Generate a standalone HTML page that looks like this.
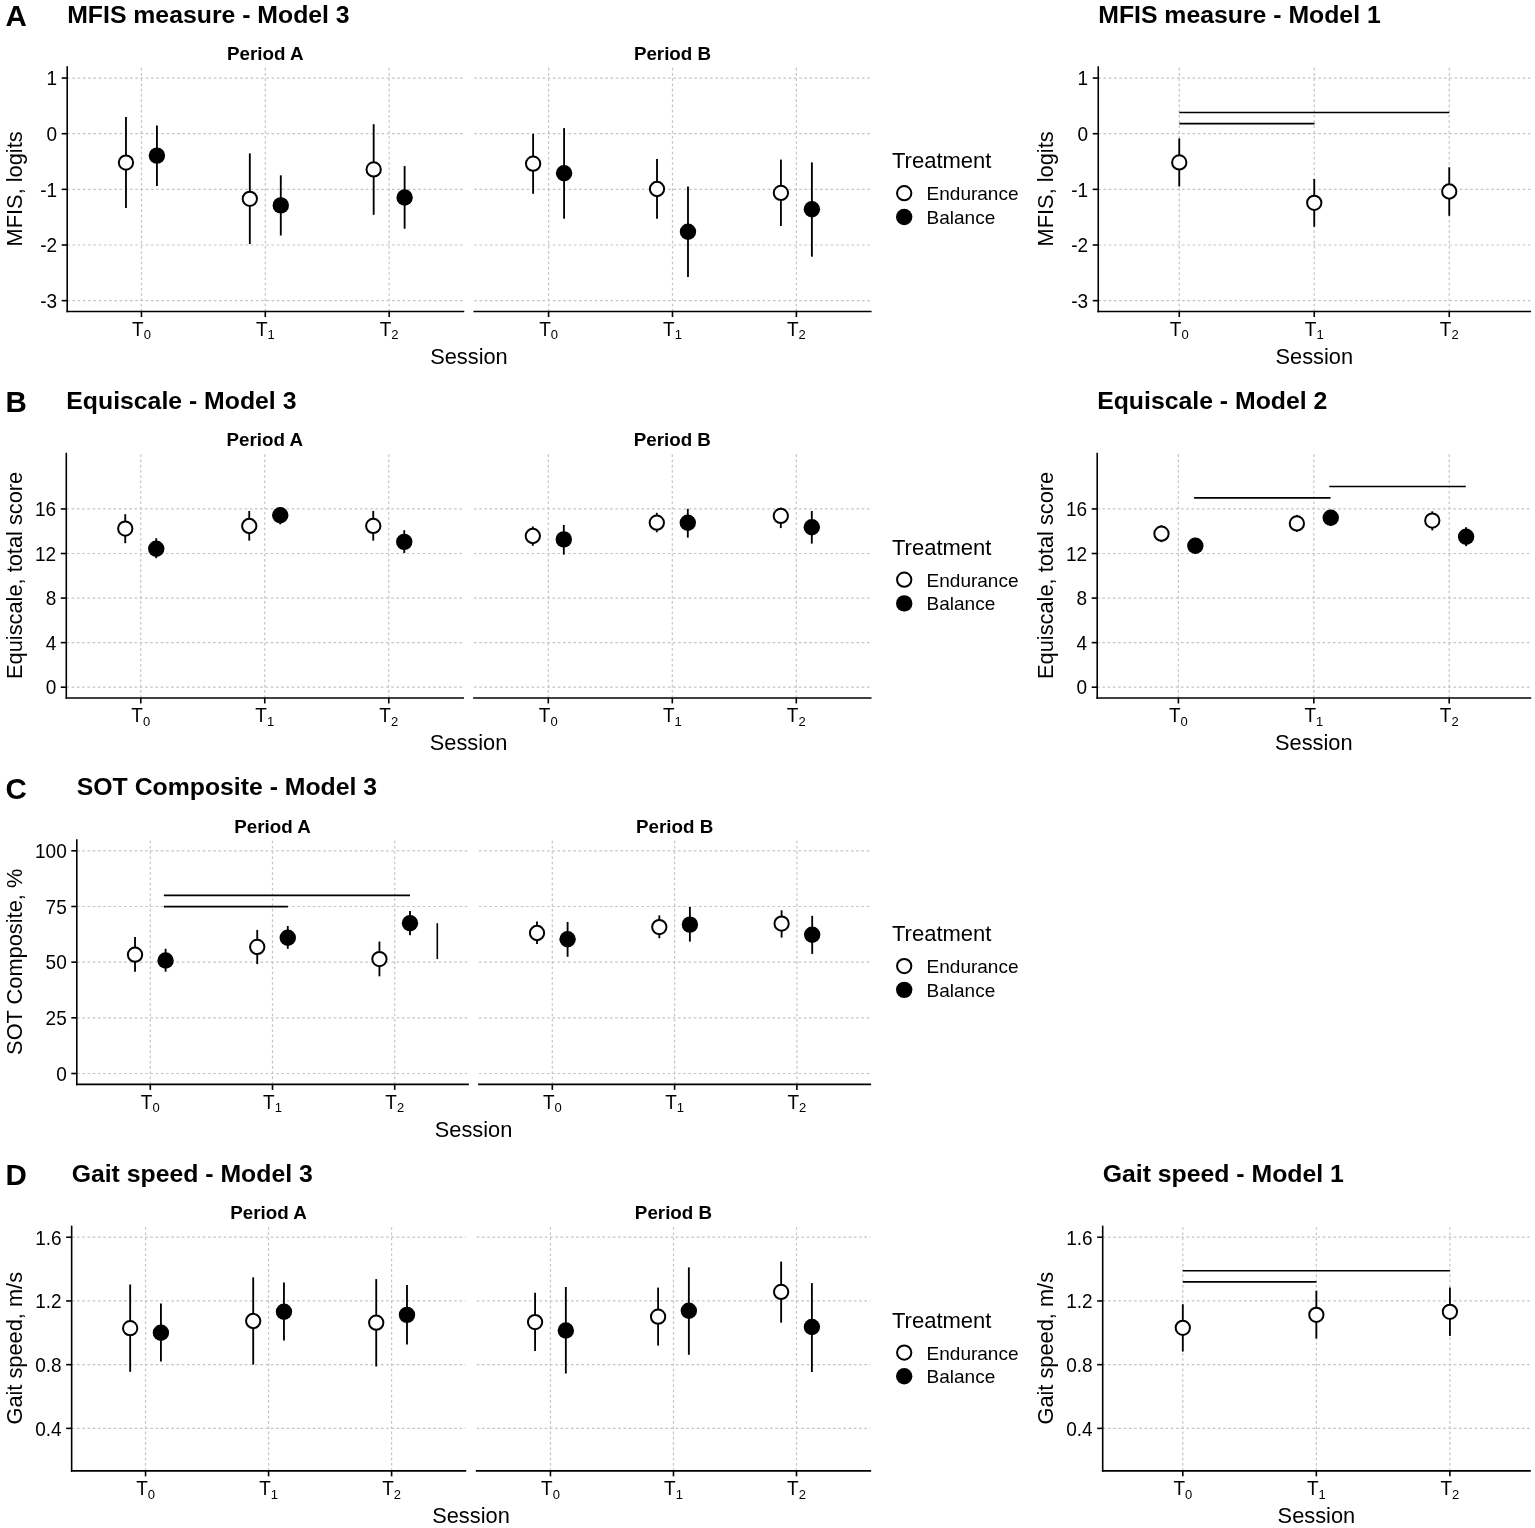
<!DOCTYPE html>
<html lang="en"><head><meta charset="utf-8"><title>Figure</title>
<style>html,body{margin:0;padding:0;background:#fff;}svg{display:block;}text{font-family:'Liberation Sans', Arial, Helvetica, sans-serif;}</style>
</head><body>
<svg width="1535" height="1528" viewBox="0 0 1535 1528" font-family="'Liberation Sans', Arial, Helvetica, sans-serif" fill="#000"><g>
<text x="5.5" y="25.8" font-size="29.5" font-weight="bold">A</text>
<text x="67.2" y="22.5" font-size="24.8" font-weight="bold">MFIS measure - Model 3</text>
<g stroke="#c4c4c4" stroke-width="1.2" stroke-dasharray="2.62 2.62" fill="none"><path d="M67.14 78.05H463.46"/><path d="M67.14 133.7H463.46"/><path d="M67.14 189.35H463.46"/><path d="M67.14 245H463.46"/><path d="M67.14 300.65H463.46"/><path d="M141.45 311.5V66.3"/><path d="M265.3 311.5V66.3"/><path d="M389.15 311.5V66.3"/><path d="M474.26 78.05H870.74"/><path d="M474.26 133.7H870.74"/><path d="M474.26 189.35H870.74"/><path d="M474.26 245H870.74"/><path d="M474.26 300.65H870.74"/><path d="M548.6 311.5V66.3"/><path d="M672.5 311.5V66.3"/><path d="M796.4 311.5V66.3"/></g>
<line x1="125.97" y1="117" x2="125.97" y2="208" stroke="#000" stroke-width="1.85"/><line x1="156.93" y1="125.5" x2="156.93" y2="186" stroke="#000" stroke-width="1.85"/><circle cx="125.97" cy="162.6" r="7.15" fill="#fff" stroke="#000" stroke-width="2"/><circle cx="156.93" cy="155.6" r="8.2" fill="#000"/><line x1="249.82" y1="153.4" x2="249.82" y2="244" stroke="#000" stroke-width="1.85"/><line x1="280.78" y1="175.3" x2="280.78" y2="235.5" stroke="#000" stroke-width="1.85"/><circle cx="249.82" cy="198.8" r="7.15" fill="#fff" stroke="#000" stroke-width="2"/><circle cx="280.78" cy="205.4" r="8.2" fill="#000"/><line x1="373.67" y1="124.2" x2="373.67" y2="214.8" stroke="#000" stroke-width="1.85"/><line x1="404.63" y1="166.1" x2="404.63" y2="228.7" stroke="#000" stroke-width="1.85"/><circle cx="373.67" cy="169.4" r="7.15" fill="#fff" stroke="#000" stroke-width="2"/><circle cx="404.63" cy="197.5" r="8.2" fill="#000"/><line x1="533.11" y1="133.8" x2="533.11" y2="193.8" stroke="#000" stroke-width="1.85"/><line x1="564.09" y1="128.1" x2="564.09" y2="218.7" stroke="#000" stroke-width="1.85"/><circle cx="533.11" cy="163.7" r="7.15" fill="#fff" stroke="#000" stroke-width="2"/><circle cx="564.09" cy="173.3" r="8.2" fill="#000"/><line x1="657.01" y1="158.9" x2="657.01" y2="218.7" stroke="#000" stroke-width="1.85"/><line x1="687.99" y1="186.6" x2="687.99" y2="277.1" stroke="#000" stroke-width="1.85"/><circle cx="657.01" cy="189" r="7.15" fill="#fff" stroke="#000" stroke-width="2"/><circle cx="687.99" cy="231.8" r="8.2" fill="#000"/><line x1="780.91" y1="159.6" x2="780.91" y2="226" stroke="#000" stroke-width="1.85"/><line x1="811.89" y1="162.4" x2="811.89" y2="256.7" stroke="#000" stroke-width="1.85"/><circle cx="780.91" cy="192.9" r="7.15" fill="#fff" stroke="#000" stroke-width="2"/><circle cx="811.89" cy="209.3" r="8.2" fill="#000"/>
<line x1="67.2" y1="66.3" x2="67.2" y2="312.3" stroke="#000" stroke-width="1.6"/><line x1="61.7" y1="78.05" x2="67.2" y2="78.05" stroke="#000" stroke-width="1.6"/><line x1="61.7" y1="133.7" x2="67.2" y2="133.7" stroke="#000" stroke-width="1.6"/><line x1="61.7" y1="189.35" x2="67.2" y2="189.35" stroke="#000" stroke-width="1.6"/><line x1="61.7" y1="245" x2="67.2" y2="245" stroke="#000" stroke-width="1.6"/><line x1="61.7" y1="300.65" x2="67.2" y2="300.65" stroke="#000" stroke-width="1.6"/><line x1="66.4" y1="311.5" x2="464.26" y2="311.5" stroke="#000" stroke-width="1.6"/><line x1="141.45" y1="311.5" x2="141.45" y2="317" stroke="#000" stroke-width="1.6"/><line x1="265.3" y1="311.5" x2="265.3" y2="317" stroke="#000" stroke-width="1.6"/><line x1="389.15" y1="311.5" x2="389.15" y2="317" stroke="#000" stroke-width="1.6"/><line x1="473.46" y1="311.5" x2="871.54" y2="311.5" stroke="#000" stroke-width="1.6"/><line x1="548.6" y1="311.5" x2="548.6" y2="317" stroke="#000" stroke-width="1.6"/><line x1="672.5" y1="311.5" x2="672.5" y2="317" stroke="#000" stroke-width="1.6"/><line x1="796.4" y1="311.5" x2="796.4" y2="317" stroke="#000" stroke-width="1.6"/>
<text x="57.1" y="85.35" font-size="19" text-anchor="end" transform="matrix(1 0 0 1.04 0 -3.41)">1</text><text x="57.1" y="141" font-size="19" text-anchor="end" transform="matrix(1 0 0 1.04 0 -5.64)">0</text><text x="57.1" y="196.65" font-size="19" text-anchor="end" transform="matrix(1 0 0 1.04 0 -7.87)">-1</text><text x="57.1" y="252.3" font-size="19" text-anchor="end" transform="matrix(1 0 0 1.04 0 -10.09)">-2</text><text x="57.1" y="307.95" font-size="19" text-anchor="end" transform="matrix(1 0 0 1.04 0 -12.32)">-3</text><text x="141.45" y="335.8" font-size="19" text-anchor="middle" transform="matrix(1 0 0 1.04 0 -13.43)">T<tspan font-size="13" dy="3.4">0</tspan></text><text x="265.3" y="335.8" font-size="19" text-anchor="middle" transform="matrix(1 0 0 1.04 0 -13.43)">T<tspan font-size="13" dy="3.4">1</tspan></text><text x="389.15" y="335.8" font-size="19" text-anchor="middle" transform="matrix(1 0 0 1.04 0 -13.43)">T<tspan font-size="13" dy="3.4">2</tspan></text><text x="548.6" y="335.8" font-size="19" text-anchor="middle" transform="matrix(1 0 0 1.04 0 -13.43)">T<tspan font-size="13" dy="3.4">0</tspan></text><text x="672.5" y="335.8" font-size="19" text-anchor="middle" transform="matrix(1 0 0 1.04 0 -13.43)">T<tspan font-size="13" dy="3.4">1</tspan></text><text x="796.4" y="335.8" font-size="19" text-anchor="middle" transform="matrix(1 0 0 1.04 0 -13.43)">T<tspan font-size="13" dy="3.4">2</tspan></text><text x="265.3" y="59.6" font-size="18.8" font-weight="bold" text-anchor="middle">Period A</text><text x="672.5" y="59.6" font-size="18.8" font-weight="bold" text-anchor="middle">Period B</text><text x="468.97" y="363.9" font-size="21.8" text-anchor="middle">Session</text><text transform="translate(21.6 188.9) rotate(-90)" font-size="21.8" text-anchor="middle">MFIS, logits</text>
<text x="892" y="168.2" font-size="22">Treatment</text><circle cx="904.2" cy="193.2" r="7.15" fill="#fff" stroke="#000" stroke-width="2"/><circle cx="904.2" cy="216.95" r="8.2" fill="#000"/><text x="926.6" y="200.3" font-size="19">Endurance</text><text x="926.6" y="223.9" font-size="19">Balance</text>
<text x="1098.25" y="22.5" font-size="24.8" font-weight="bold">MFIS measure - Model 1</text>
<g stroke="#c4c4c4" stroke-width="1.2" stroke-dasharray="2.62 2.62" fill="none"><path d="M1098.25 78.05H1530.25"/><path d="M1098.25 133.7H1530.25"/><path d="M1098.25 189.35H1530.25"/><path d="M1098.25 245H1530.25"/><path d="M1098.25 300.65H1530.25"/><path d="M1179.25 311.5V66.3"/><path d="M1314.25 311.5V66.3"/><path d="M1449.25 311.5V66.3"/></g>
<line x1="1179.25" y1="138.4" x2="1179.25" y2="186.5" stroke="#000" stroke-width="1.85"/><circle cx="1179.25" cy="162.4" r="7.15" fill="#fff" stroke="#000" stroke-width="2"/><line x1="1314.25" y1="179" x2="1314.25" y2="226.8" stroke="#000" stroke-width="1.85"/><circle cx="1314.25" cy="202.8" r="7.15" fill="#fff" stroke="#000" stroke-width="2"/><line x1="1449.25" y1="167.3" x2="1449.25" y2="215.8" stroke="#000" stroke-width="1.85"/><circle cx="1449.25" cy="191.5" r="7.15" fill="#fff" stroke="#000" stroke-width="2"/><line x1="1179.3" y1="112.5" x2="1449.3" y2="112.5" stroke="#000" stroke-width="1.6"/><line x1="1179.3" y1="123.6" x2="1314.5" y2="123.6" stroke="#000" stroke-width="1.6"/>
<line x1="1098.25" y1="66.3" x2="1098.25" y2="312.3" stroke="#000" stroke-width="1.6"/><line x1="1092.75" y1="78.05" x2="1098.25" y2="78.05" stroke="#000" stroke-width="1.6"/><line x1="1092.75" y1="133.7" x2="1098.25" y2="133.7" stroke="#000" stroke-width="1.6"/><line x1="1092.75" y1="189.35" x2="1098.25" y2="189.35" stroke="#000" stroke-width="1.6"/><line x1="1092.75" y1="245" x2="1098.25" y2="245" stroke="#000" stroke-width="1.6"/><line x1="1092.75" y1="300.65" x2="1098.25" y2="300.65" stroke="#000" stroke-width="1.6"/><line x1="1097.45" y1="311.5" x2="1531.05" y2="311.5" stroke="#000" stroke-width="1.6"/><line x1="1179.25" y1="311.5" x2="1179.25" y2="317" stroke="#000" stroke-width="1.6"/><line x1="1314.25" y1="311.5" x2="1314.25" y2="317" stroke="#000" stroke-width="1.6"/><line x1="1449.25" y1="311.5" x2="1449.25" y2="317" stroke="#000" stroke-width="1.6"/>
<text x="1088.15" y="85.35" font-size="19" text-anchor="end" transform="matrix(1 0 0 1.04 0 -3.41)">1</text><text x="1088.15" y="141" font-size="19" text-anchor="end" transform="matrix(1 0 0 1.04 0 -5.64)">0</text><text x="1088.15" y="196.65" font-size="19" text-anchor="end" transform="matrix(1 0 0 1.04 0 -7.87)">-1</text><text x="1088.15" y="252.3" font-size="19" text-anchor="end" transform="matrix(1 0 0 1.04 0 -10.09)">-2</text><text x="1088.15" y="307.95" font-size="19" text-anchor="end" transform="matrix(1 0 0 1.04 0 -12.32)">-3</text><text x="1179.25" y="335.8" font-size="19" text-anchor="middle" transform="matrix(1 0 0 1.04 0 -13.43)">T<tspan font-size="13" dy="3.4">0</tspan></text><text x="1314.25" y="335.8" font-size="19" text-anchor="middle" transform="matrix(1 0 0 1.04 0 -13.43)">T<tspan font-size="13" dy="3.4">1</tspan></text><text x="1449.25" y="335.8" font-size="19" text-anchor="middle" transform="matrix(1 0 0 1.04 0 -13.43)">T<tspan font-size="13" dy="3.4">2</tspan></text><text x="1314.25" y="363.9" font-size="21.8" text-anchor="middle">Session</text><text transform="translate(1052.8 188.9) rotate(-90)" font-size="21.8" text-anchor="middle">MFIS, logits</text>
</g>
<g>
<text x="5.5" y="412.25" font-size="29.5" font-weight="bold">B</text>
<text x="66.3" y="408.95" font-size="24.8" font-weight="bold">Equiscale - Model 3</text>
<g stroke="#c4c4c4" stroke-width="1.2" stroke-dasharray="2.62 2.62" fill="none"><path d="M66.35 508.96H463.15"/><path d="M66.35 553.52H463.15"/><path d="M66.35 598.08H463.15"/><path d="M66.35 642.64H463.15"/><path d="M66.35 687.2H463.15"/><path d="M140.75 697.95V452.75"/><path d="M264.75 697.95V452.75"/><path d="M388.75 697.95V452.75"/><path d="M473.9 508.96H870.7"/><path d="M473.9 553.52H870.7"/><path d="M473.9 598.08H870.7"/><path d="M473.9 642.64H870.7"/><path d="M473.9 687.2H870.7"/><path d="M548.3 697.95V452.75"/><path d="M672.3 697.95V452.75"/><path d="M796.3 697.95V452.75"/></g>
<line x1="125.25" y1="514.2" x2="125.25" y2="543.2" stroke="#000" stroke-width="1.85"/><line x1="156.25" y1="538.2" x2="156.25" y2="558.2" stroke="#000" stroke-width="1.85"/><circle cx="125.25" cy="528.6" r="7.15" fill="#fff" stroke="#000" stroke-width="2"/><circle cx="156.25" cy="548.7" r="8.2" fill="#000"/><line x1="249.25" y1="511" x2="249.25" y2="540.6" stroke="#000" stroke-width="1.85"/><line x1="280.25" y1="507" x2="280.25" y2="524.4" stroke="#000" stroke-width="1.85"/><circle cx="249.25" cy="526" r="7.15" fill="#fff" stroke="#000" stroke-width="2"/><circle cx="280.25" cy="515.3" r="8.2" fill="#000"/><line x1="373.25" y1="511" x2="373.25" y2="540.6" stroke="#000" stroke-width="1.85"/><line x1="404.25" y1="530.2" x2="404.25" y2="553" stroke="#000" stroke-width="1.85"/><circle cx="373.25" cy="525.9" r="7.15" fill="#fff" stroke="#000" stroke-width="2"/><circle cx="404.25" cy="541.9" r="8.2" fill="#000"/><line x1="532.8" y1="526.5" x2="532.8" y2="545.8" stroke="#000" stroke-width="1.85"/><line x1="563.8" y1="525" x2="563.8" y2="554.6" stroke="#000" stroke-width="1.85"/><circle cx="532.8" cy="536" r="7.15" fill="#fff" stroke="#000" stroke-width="2"/><circle cx="563.8" cy="539.4" r="8.2" fill="#000"/><line x1="656.8" y1="512.8" x2="656.8" y2="532.3" stroke="#000" stroke-width="1.85"/><line x1="687.8" y1="508.8" x2="687.8" y2="537.6" stroke="#000" stroke-width="1.85"/><circle cx="656.8" cy="522.7" r="7.15" fill="#fff" stroke="#000" stroke-width="2"/><circle cx="687.8" cy="522.7" r="8.2" fill="#000"/><line x1="780.8" y1="507.7" x2="780.8" y2="528.1" stroke="#000" stroke-width="1.85"/><line x1="811.8" y1="511" x2="811.8" y2="543.6" stroke="#000" stroke-width="1.85"/><circle cx="780.8" cy="515.9" r="7.15" fill="#fff" stroke="#000" stroke-width="2"/><circle cx="811.8" cy="527.2" r="8.2" fill="#000"/>
<line x1="66.3" y1="452.75" x2="66.3" y2="698.75" stroke="#000" stroke-width="1.6"/><line x1="60.8" y1="508.96" x2="66.3" y2="508.96" stroke="#000" stroke-width="1.6"/><line x1="60.8" y1="553.52" x2="66.3" y2="553.52" stroke="#000" stroke-width="1.6"/><line x1="60.8" y1="598.08" x2="66.3" y2="598.08" stroke="#000" stroke-width="1.6"/><line x1="60.8" y1="642.64" x2="66.3" y2="642.64" stroke="#000" stroke-width="1.6"/><line x1="60.8" y1="687.2" x2="66.3" y2="687.2" stroke="#000" stroke-width="1.6"/><line x1="65.5" y1="697.95" x2="463.95" y2="697.95" stroke="#000" stroke-width="1.6"/><line x1="140.75" y1="697.95" x2="140.75" y2="703.45" stroke="#000" stroke-width="1.6"/><line x1="264.75" y1="697.95" x2="264.75" y2="703.45" stroke="#000" stroke-width="1.6"/><line x1="388.75" y1="697.95" x2="388.75" y2="703.45" stroke="#000" stroke-width="1.6"/><line x1="473.1" y1="697.95" x2="871.5" y2="697.95" stroke="#000" stroke-width="1.6"/><line x1="548.3" y1="697.95" x2="548.3" y2="703.45" stroke="#000" stroke-width="1.6"/><line x1="672.3" y1="697.95" x2="672.3" y2="703.45" stroke="#000" stroke-width="1.6"/><line x1="796.3" y1="697.95" x2="796.3" y2="703.45" stroke="#000" stroke-width="1.6"/>
<text x="56.2" y="516.26" font-size="19" text-anchor="end" transform="matrix(1 0 0 1.04 0 -20.65)">16</text><text x="56.2" y="560.82" font-size="19" text-anchor="end" transform="matrix(1 0 0 1.04 0 -22.43)">12</text><text x="56.2" y="605.38" font-size="19" text-anchor="end" transform="matrix(1 0 0 1.04 0 -24.22)">8</text><text x="56.2" y="649.94" font-size="19" text-anchor="end" transform="matrix(1 0 0 1.04 0 -26)">4</text><text x="56.2" y="694.5" font-size="19" text-anchor="end" transform="matrix(1 0 0 1.04 0 -27.78)">0</text><text x="140.75" y="722.25" font-size="19" text-anchor="middle" transform="matrix(1 0 0 1.04 0 -28.89)">T<tspan font-size="13" dy="3.4">0</tspan></text><text x="264.75" y="722.25" font-size="19" text-anchor="middle" transform="matrix(1 0 0 1.04 0 -28.89)">T<tspan font-size="13" dy="3.4">1</tspan></text><text x="388.75" y="722.25" font-size="19" text-anchor="middle" transform="matrix(1 0 0 1.04 0 -28.89)">T<tspan font-size="13" dy="3.4">2</tspan></text><text x="548.3" y="722.25" font-size="19" text-anchor="middle" transform="matrix(1 0 0 1.04 0 -28.89)">T<tspan font-size="13" dy="3.4">0</tspan></text><text x="672.3" y="722.25" font-size="19" text-anchor="middle" transform="matrix(1 0 0 1.04 0 -28.89)">T<tspan font-size="13" dy="3.4">1</tspan></text><text x="796.3" y="722.25" font-size="19" text-anchor="middle" transform="matrix(1 0 0 1.04 0 -28.89)">T<tspan font-size="13" dy="3.4">2</tspan></text><text x="264.75" y="446.05" font-size="18.8" font-weight="bold" text-anchor="middle">Period A</text><text x="672.3" y="446.05" font-size="18.8" font-weight="bold" text-anchor="middle">Period B</text><text x="468.5" y="750.35" font-size="21.8" text-anchor="middle">Session</text><text transform="translate(21.6 575.35) rotate(-90)" font-size="21.8" text-anchor="middle">Equiscale, total score</text>
<text x="892" y="554.65" font-size="22">Treatment</text><circle cx="904.2" cy="579.65" r="7.15" fill="#fff" stroke="#000" stroke-width="2"/><circle cx="904.2" cy="603.4" r="8.2" fill="#000"/><text x="926.6" y="586.75" font-size="19">Endurance</text><text x="926.6" y="610.35" font-size="19">Balance</text>
<text x="1097.2" y="408.95" font-size="24.8" font-weight="bold">Equiscale - Model 2</text>
<g stroke="#c4c4c4" stroke-width="1.2" stroke-dasharray="2.62 2.62" fill="none"><path d="M1097.16 508.96H1530.44"/><path d="M1097.16 553.52H1530.44"/><path d="M1097.16 598.08H1530.44"/><path d="M1097.16 642.64H1530.44"/><path d="M1097.16 687.2H1530.44"/><path d="M1178.4 697.95V452.75"/><path d="M1313.8 697.95V452.75"/><path d="M1449.2 697.95V452.75"/></g>
<line x1="1161.48" y1="525.2" x2="1161.48" y2="542.2" stroke="#000" stroke-width="1.85"/><line x1="1195.33" y1="537.8" x2="1195.33" y2="553.8" stroke="#000" stroke-width="1.85"/><circle cx="1161.48" cy="533.7" r="7.15" fill="#fff" stroke="#000" stroke-width="2"/><circle cx="1195.33" cy="545.8" r="8.2" fill="#000"/><line x1="1296.88" y1="514.9" x2="1296.88" y2="531.9" stroke="#000" stroke-width="1.85"/><line x1="1330.73" y1="509.8" x2="1330.73" y2="525.8" stroke="#000" stroke-width="1.85"/><circle cx="1296.88" cy="523.4" r="7.15" fill="#fff" stroke="#000" stroke-width="2"/><circle cx="1330.73" cy="517.8" r="8.2" fill="#000"/><line x1="1432.28" y1="511.3" x2="1432.28" y2="530.4" stroke="#000" stroke-width="1.85"/><line x1="1466.12" y1="527.2" x2="1466.12" y2="546.2" stroke="#000" stroke-width="1.85"/><circle cx="1432.28" cy="520.6" r="7.15" fill="#fff" stroke="#000" stroke-width="2"/><circle cx="1466.12" cy="536.7" r="8.2" fill="#000"/><line x1="1194.1" y1="497.9" x2="1330.5" y2="497.9" stroke="#000" stroke-width="1.6"/><line x1="1329.3" y1="486.5" x2="1465.8" y2="486.5" stroke="#000" stroke-width="1.6"/>
<line x1="1097.2" y1="452.75" x2="1097.2" y2="698.75" stroke="#000" stroke-width="1.6"/><line x1="1091.7" y1="508.96" x2="1097.2" y2="508.96" stroke="#000" stroke-width="1.6"/><line x1="1091.7" y1="553.52" x2="1097.2" y2="553.52" stroke="#000" stroke-width="1.6"/><line x1="1091.7" y1="598.08" x2="1097.2" y2="598.08" stroke="#000" stroke-width="1.6"/><line x1="1091.7" y1="642.64" x2="1097.2" y2="642.64" stroke="#000" stroke-width="1.6"/><line x1="1091.7" y1="687.2" x2="1097.2" y2="687.2" stroke="#000" stroke-width="1.6"/><line x1="1096.4" y1="697.95" x2="1531.24" y2="697.95" stroke="#000" stroke-width="1.6"/><line x1="1178.4" y1="697.95" x2="1178.4" y2="703.45" stroke="#000" stroke-width="1.6"/><line x1="1313.8" y1="697.95" x2="1313.8" y2="703.45" stroke="#000" stroke-width="1.6"/><line x1="1449.2" y1="697.95" x2="1449.2" y2="703.45" stroke="#000" stroke-width="1.6"/>
<text x="1087.1" y="516.26" font-size="19" text-anchor="end" transform="matrix(1 0 0 1.04 0 -20.65)">16</text><text x="1087.1" y="560.82" font-size="19" text-anchor="end" transform="matrix(1 0 0 1.04 0 -22.43)">12</text><text x="1087.1" y="605.38" font-size="19" text-anchor="end" transform="matrix(1 0 0 1.04 0 -24.22)">8</text><text x="1087.1" y="649.94" font-size="19" text-anchor="end" transform="matrix(1 0 0 1.04 0 -26)">4</text><text x="1087.1" y="694.5" font-size="19" text-anchor="end" transform="matrix(1 0 0 1.04 0 -27.78)">0</text><text x="1178.4" y="722.25" font-size="19" text-anchor="middle" transform="matrix(1 0 0 1.04 0 -28.89)">T<tspan font-size="13" dy="3.4">0</tspan></text><text x="1313.8" y="722.25" font-size="19" text-anchor="middle" transform="matrix(1 0 0 1.04 0 -28.89)">T<tspan font-size="13" dy="3.4">1</tspan></text><text x="1449.2" y="722.25" font-size="19" text-anchor="middle" transform="matrix(1 0 0 1.04 0 -28.89)">T<tspan font-size="13" dy="3.4">2</tspan></text><text x="1313.82" y="750.35" font-size="21.8" text-anchor="middle">Session</text><text transform="translate(1052.8 575.35) rotate(-90)" font-size="21.8" text-anchor="middle">Equiscale, total score</text>
</g>
<g>
<text x="5.5" y="798.7" font-size="29.5" font-weight="bold">C</text>
<text x="76.8" y="795.4" font-size="24.8" font-weight="bold">SOT Composite - Model 3</text>
<g stroke="#c4c4c4" stroke-width="1.2" stroke-dasharray="2.62 2.62" fill="none"><path d="M76.98 850.8H468.02"/><path d="M76.98 906.48H468.02"/><path d="M76.98 962.15H468.02"/><path d="M76.98 1017.83H468.02"/><path d="M76.98 1073.5H468.02"/><path d="M150.3 1084.4V839.2"/><path d="M272.5 1084.4V839.2"/><path d="M394.7 1084.4V839.2"/><path d="M478.92 850.8H870.28"/><path d="M478.92 906.48H870.28"/><path d="M478.92 962.15H870.28"/><path d="M478.92 1017.83H870.28"/><path d="M478.92 1073.5H870.28"/><path d="M552.3 1084.4V839.2"/><path d="M674.6 1084.4V839.2"/><path d="M796.9 1084.4V839.2"/></g>
<line x1="135.03" y1="937.1" x2="135.03" y2="971.7" stroke="#000" stroke-width="1.85"/><line x1="165.58" y1="948.8" x2="165.58" y2="971.7" stroke="#000" stroke-width="1.85"/><circle cx="135.03" cy="954.7" r="7.15" fill="#fff" stroke="#000" stroke-width="2"/><circle cx="165.58" cy="960.5" r="8.2" fill="#000"/><line x1="257.23" y1="929.9" x2="257.23" y2="964.1" stroke="#000" stroke-width="1.85"/><line x1="287.77" y1="926" x2="287.77" y2="948.8" stroke="#000" stroke-width="1.85"/><circle cx="257.23" cy="946.9" r="7.15" fill="#fff" stroke="#000" stroke-width="2"/><circle cx="287.77" cy="937.7" r="8.2" fill="#000"/><line x1="379.43" y1="941.6" x2="379.43" y2="976.3" stroke="#000" stroke-width="1.85"/><line x1="409.98" y1="910.9" x2="409.98" y2="935.3" stroke="#000" stroke-width="1.85"/><circle cx="379.43" cy="959.1" r="7.15" fill="#fff" stroke="#000" stroke-width="2"/><circle cx="409.98" cy="923.2" r="8.2" fill="#000"/><line x1="537.01" y1="921.6" x2="537.01" y2="944.1" stroke="#000" stroke-width="1.85"/><line x1="567.59" y1="922" x2="567.59" y2="956.8" stroke="#000" stroke-width="1.85"/><circle cx="537.01" cy="933" r="7.15" fill="#fff" stroke="#000" stroke-width="2"/><circle cx="567.59" cy="939.2" r="8.2" fill="#000"/><line x1="659.31" y1="915.4" x2="659.31" y2="938.2" stroke="#000" stroke-width="1.85"/><line x1="689.89" y1="907" x2="689.89" y2="941.6" stroke="#000" stroke-width="1.85"/><circle cx="659.31" cy="927.1" r="7.15" fill="#fff" stroke="#000" stroke-width="2"/><circle cx="689.89" cy="924.6" r="8.2" fill="#000"/><line x1="781.61" y1="910.3" x2="781.61" y2="937.6" stroke="#000" stroke-width="1.85"/><line x1="812.19" y1="915.8" x2="812.19" y2="953.9" stroke="#000" stroke-width="1.85"/><circle cx="781.61" cy="923.6" r="7.15" fill="#fff" stroke="#000" stroke-width="2"/><circle cx="812.19" cy="934.7" r="8.2" fill="#000"/><line x1="163.9" y1="895.4" x2="410" y2="895.4" stroke="#000" stroke-width="1.6"/><line x1="163.9" y1="906.6" x2="287.9" y2="906.6" stroke="#000" stroke-width="1.6"/><line x1="437.3" y1="923.2" x2="437.3" y2="959.1" stroke="#000" stroke-width="1.6"/>
<line x1="76.8" y1="839.2" x2="76.8" y2="1085.2" stroke="#000" stroke-width="1.6"/><line x1="71.3" y1="850.8" x2="76.8" y2="850.8" stroke="#000" stroke-width="1.6"/><line x1="71.3" y1="906.48" x2="76.8" y2="906.48" stroke="#000" stroke-width="1.6"/><line x1="71.3" y1="962.15" x2="76.8" y2="962.15" stroke="#000" stroke-width="1.6"/><line x1="71.3" y1="1017.83" x2="76.8" y2="1017.83" stroke="#000" stroke-width="1.6"/><line x1="71.3" y1="1073.5" x2="76.8" y2="1073.5" stroke="#000" stroke-width="1.6"/><line x1="76" y1="1084.4" x2="468.82" y2="1084.4" stroke="#000" stroke-width="1.6"/><line x1="150.3" y1="1084.4" x2="150.3" y2="1089.9" stroke="#000" stroke-width="1.6"/><line x1="272.5" y1="1084.4" x2="272.5" y2="1089.9" stroke="#000" stroke-width="1.6"/><line x1="394.7" y1="1084.4" x2="394.7" y2="1089.9" stroke="#000" stroke-width="1.6"/><line x1="478.12" y1="1084.4" x2="871.08" y2="1084.4" stroke="#000" stroke-width="1.6"/><line x1="552.3" y1="1084.4" x2="552.3" y2="1089.9" stroke="#000" stroke-width="1.6"/><line x1="674.6" y1="1084.4" x2="674.6" y2="1089.9" stroke="#000" stroke-width="1.6"/><line x1="796.9" y1="1084.4" x2="796.9" y2="1089.9" stroke="#000" stroke-width="1.6"/>
<text x="66.7" y="858.1" font-size="19" text-anchor="end" transform="matrix(1 0 0 1.04 0 -34.32)">100</text><text x="66.7" y="913.77" font-size="19" text-anchor="end" transform="matrix(1 0 0 1.04 0 -36.55)">75</text><text x="66.7" y="969.45" font-size="19" text-anchor="end" transform="matrix(1 0 0 1.04 0 -38.78)">50</text><text x="66.7" y="1025.12" font-size="19" text-anchor="end" transform="matrix(1 0 0 1.04 0 -41.01)">25</text><text x="66.7" y="1080.8" font-size="19" text-anchor="end" transform="matrix(1 0 0 1.04 0 -43.23)">0</text><text x="150.3" y="1108.7" font-size="19" text-anchor="middle" transform="matrix(1 0 0 1.04 0 -44.35)">T<tspan font-size="13" dy="3.4">0</tspan></text><text x="272.5" y="1108.7" font-size="19" text-anchor="middle" transform="matrix(1 0 0 1.04 0 -44.35)">T<tspan font-size="13" dy="3.4">1</tspan></text><text x="394.7" y="1108.7" font-size="19" text-anchor="middle" transform="matrix(1 0 0 1.04 0 -44.35)">T<tspan font-size="13" dy="3.4">2</tspan></text><text x="552.3" y="1108.7" font-size="19" text-anchor="middle" transform="matrix(1 0 0 1.04 0 -44.35)">T<tspan font-size="13" dy="3.4">0</tspan></text><text x="674.6" y="1108.7" font-size="19" text-anchor="middle" transform="matrix(1 0 0 1.04 0 -44.35)">T<tspan font-size="13" dy="3.4">1</tspan></text><text x="796.9" y="1108.7" font-size="19" text-anchor="middle" transform="matrix(1 0 0 1.04 0 -44.35)">T<tspan font-size="13" dy="3.4">2</tspan></text><text x="272.5" y="832.5" font-size="18.8" font-weight="bold" text-anchor="middle">Period A</text><text x="674.6" y="832.5" font-size="18.8" font-weight="bold" text-anchor="middle">Period B</text><text x="473.54" y="1136.8" font-size="21.8" text-anchor="middle">Session</text><text transform="translate(21.6 961.8) rotate(-90)" font-size="21.8" text-anchor="middle">SOT Composite, %</text>
<text x="892" y="941.1" font-size="22">Treatment</text><circle cx="904.2" cy="966.1" r="7.15" fill="#fff" stroke="#000" stroke-width="2"/><circle cx="904.2" cy="989.85" r="8.2" fill="#000"/><text x="926.6" y="973.2" font-size="19">Endurance</text><text x="926.6" y="996.8" font-size="19">Balance</text>
</g>
<g>
<text x="5.5" y="1185.15" font-size="29.5" font-weight="bold">D</text>
<text x="71.65" y="1181.85" font-size="24.8" font-weight="bold">Gait speed - Model 3</text>
<g stroke="#c4c4c4" stroke-width="1.2" stroke-dasharray="2.62 2.62" fill="none"><path d="M71.73 1237.22H465.43"/><path d="M71.73 1300.94H465.43"/><path d="M71.73 1364.66H465.43"/><path d="M71.73 1428.38H465.43"/><path d="M145.55 1470.85V1225.65"/><path d="M268.58 1470.85V1225.65"/><path d="M391.61 1470.85V1225.65"/><path d="M476.63 1237.22H870.33"/><path d="M476.63 1300.94H870.33"/><path d="M476.63 1364.66H870.33"/><path d="M476.63 1428.38H870.33"/><path d="M550.45 1470.85V1225.65"/><path d="M673.48 1470.85V1225.65"/><path d="M796.51 1470.85V1225.65"/></g>
<line x1="130.17" y1="1284.5" x2="130.17" y2="1371.8" stroke="#000" stroke-width="1.85"/><line x1="160.93" y1="1303.4" x2="160.93" y2="1361.5" stroke="#000" stroke-width="1.85"/><circle cx="130.17" cy="1328.2" r="7.15" fill="#fff" stroke="#000" stroke-width="2"/><circle cx="160.93" cy="1332.7" r="8.2" fill="#000"/><line x1="253.2" y1="1277.4" x2="253.2" y2="1364.6" stroke="#000" stroke-width="1.85"/><line x1="283.96" y1="1282.5" x2="283.96" y2="1340.5" stroke="#000" stroke-width="1.85"/><circle cx="253.2" cy="1321" r="7.15" fill="#fff" stroke="#000" stroke-width="2"/><circle cx="283.96" cy="1311.8" r="8.2" fill="#000"/><line x1="376.23" y1="1279.1" x2="376.23" y2="1366.5" stroke="#000" stroke-width="1.85"/><line x1="406.99" y1="1285" x2="406.99" y2="1344.6" stroke="#000" stroke-width="1.85"/><circle cx="376.23" cy="1322.7" r="7.15" fill="#fff" stroke="#000" stroke-width="2"/><circle cx="406.99" cy="1314.9" r="8.2" fill="#000"/><line x1="535.07" y1="1292.8" x2="535.07" y2="1350.9" stroke="#000" stroke-width="1.85"/><line x1="565.83" y1="1287" x2="565.83" y2="1373.5" stroke="#000" stroke-width="1.85"/><circle cx="535.07" cy="1322.1" r="7.15" fill="#fff" stroke="#000" stroke-width="2"/><circle cx="565.83" cy="1330.5" r="8.2" fill="#000"/><line x1="658.1" y1="1287.6" x2="658.1" y2="1345.6" stroke="#000" stroke-width="1.85"/><line x1="688.86" y1="1267.4" x2="688.86" y2="1354.8" stroke="#000" stroke-width="1.85"/><circle cx="658.1" cy="1316.7" r="7.15" fill="#fff" stroke="#000" stroke-width="2"/><circle cx="688.86" cy="1310.8" r="8.2" fill="#000"/><line x1="781.13" y1="1261.6" x2="781.13" y2="1322.7" stroke="#000" stroke-width="1.85"/><line x1="811.89" y1="1283.1" x2="811.89" y2="1372" stroke="#000" stroke-width="1.85"/><circle cx="781.13" cy="1291.9" r="7.15" fill="#fff" stroke="#000" stroke-width="2"/><circle cx="811.89" cy="1327" r="8.2" fill="#000"/>
<line x1="71.65" y1="1225.65" x2="71.65" y2="1471.65" stroke="#000" stroke-width="1.6"/><line x1="66.15" y1="1237.22" x2="71.65" y2="1237.22" stroke="#000" stroke-width="1.6"/><line x1="66.15" y1="1300.94" x2="71.65" y2="1300.94" stroke="#000" stroke-width="1.6"/><line x1="66.15" y1="1364.66" x2="71.65" y2="1364.66" stroke="#000" stroke-width="1.6"/><line x1="66.15" y1="1428.38" x2="71.65" y2="1428.38" stroke="#000" stroke-width="1.6"/><line x1="70.85" y1="1470.85" x2="466.23" y2="1470.85" stroke="#000" stroke-width="1.6"/><line x1="145.55" y1="1470.85" x2="145.55" y2="1476.35" stroke="#000" stroke-width="1.6"/><line x1="268.58" y1="1470.85" x2="268.58" y2="1476.35" stroke="#000" stroke-width="1.6"/><line x1="391.61" y1="1470.85" x2="391.61" y2="1476.35" stroke="#000" stroke-width="1.6"/><line x1="475.83" y1="1470.85" x2="871.13" y2="1470.85" stroke="#000" stroke-width="1.6"/><line x1="550.45" y1="1470.85" x2="550.45" y2="1476.35" stroke="#000" stroke-width="1.6"/><line x1="673.48" y1="1470.85" x2="673.48" y2="1476.35" stroke="#000" stroke-width="1.6"/><line x1="796.51" y1="1470.85" x2="796.51" y2="1476.35" stroke="#000" stroke-width="1.6"/>
<text x="61.55" y="1244.52" font-size="19" text-anchor="end" transform="matrix(1 0 0 1.04 0 -49.78)">1.6</text><text x="61.55" y="1308.24" font-size="19" text-anchor="end" transform="matrix(1 0 0 1.04 0 -52.33)">1.2</text><text x="61.55" y="1371.96" font-size="19" text-anchor="end" transform="matrix(1 0 0 1.04 0 -54.88)">0.8</text><text x="61.55" y="1435.68" font-size="19" text-anchor="end" transform="matrix(1 0 0 1.04 0 -57.43)">0.4</text><text x="145.55" y="1495.15" font-size="19" text-anchor="middle" transform="matrix(1 0 0 1.04 0 -59.81)">T<tspan font-size="13" dy="3.4">0</tspan></text><text x="268.58" y="1495.15" font-size="19" text-anchor="middle" transform="matrix(1 0 0 1.04 0 -59.81)">T<tspan font-size="13" dy="3.4">1</tspan></text><text x="391.61" y="1495.15" font-size="19" text-anchor="middle" transform="matrix(1 0 0 1.04 0 -59.81)">T<tspan font-size="13" dy="3.4">2</tspan></text><text x="550.45" y="1495.15" font-size="19" text-anchor="middle" transform="matrix(1 0 0 1.04 0 -59.81)">T<tspan font-size="13" dy="3.4">0</tspan></text><text x="673.48" y="1495.15" font-size="19" text-anchor="middle" transform="matrix(1 0 0 1.04 0 -59.81)">T<tspan font-size="13" dy="3.4">1</tspan></text><text x="796.51" y="1495.15" font-size="19" text-anchor="middle" transform="matrix(1 0 0 1.04 0 -59.81)">T<tspan font-size="13" dy="3.4">2</tspan></text><text x="268.58" y="1218.95" font-size="18.8" font-weight="bold" text-anchor="middle">Period A</text><text x="673.48" y="1218.95" font-size="18.8" font-weight="bold" text-anchor="middle">Period B</text><text x="470.99" y="1523.25" font-size="21.8" text-anchor="middle">Session</text><text transform="translate(21.6 1348.25) rotate(-90)" font-size="21.8" text-anchor="middle">Gait speed, m/s</text>
<text x="892" y="1327.55" font-size="22">Treatment</text><circle cx="904.2" cy="1352.55" r="7.15" fill="#fff" stroke="#000" stroke-width="2"/><circle cx="904.2" cy="1376.3" r="8.2" fill="#000"/><text x="926.6" y="1359.65" font-size="19">Endurance</text><text x="926.6" y="1383.25" font-size="19">Balance</text>
<text x="1102.7" y="1181.85" font-size="24.8" font-weight="bold">Gait speed - Model 1</text>
<g stroke="#c4c4c4" stroke-width="1.2" stroke-dasharray="2.62 2.62" fill="none"><path d="M1102.67 1237.22H1530.03"/><path d="M1102.67 1300.94H1530.03"/><path d="M1102.67 1364.66H1530.03"/><path d="M1102.67 1428.38H1530.03"/><path d="M1182.8 1470.85V1225.65"/><path d="M1316.35 1470.85V1225.65"/><path d="M1449.9 1470.85V1225.65"/></g>
<line x1="1182.8" y1="1304.2" x2="1182.8" y2="1351.6" stroke="#000" stroke-width="1.85"/><circle cx="1182.8" cy="1327.8" r="7.15" fill="#fff" stroke="#000" stroke-width="2"/><line x1="1316.35" y1="1290.8" x2="1316.35" y2="1338.6" stroke="#000" stroke-width="1.85"/><circle cx="1316.35" cy="1314.8" r="7.15" fill="#fff" stroke="#000" stroke-width="2"/><line x1="1449.9" y1="1287.5" x2="1449.9" y2="1335.9" stroke="#000" stroke-width="1.85"/><circle cx="1449.9" cy="1311.8" r="7.15" fill="#fff" stroke="#000" stroke-width="2"/><line x1="1182.8" y1="1270.8" x2="1449.9" y2="1270.8" stroke="#000" stroke-width="1.6"/><line x1="1182.8" y1="1281.9" x2="1316.5" y2="1281.9" stroke="#000" stroke-width="1.6"/>
<line x1="1102.7" y1="1225.65" x2="1102.7" y2="1471.65" stroke="#000" stroke-width="1.6"/><line x1="1097.2" y1="1237.22" x2="1102.7" y2="1237.22" stroke="#000" stroke-width="1.6"/><line x1="1097.2" y1="1300.94" x2="1102.7" y2="1300.94" stroke="#000" stroke-width="1.6"/><line x1="1097.2" y1="1364.66" x2="1102.7" y2="1364.66" stroke="#000" stroke-width="1.6"/><line x1="1097.2" y1="1428.38" x2="1102.7" y2="1428.38" stroke="#000" stroke-width="1.6"/><line x1="1101.9" y1="1470.85" x2="1530.83" y2="1470.85" stroke="#000" stroke-width="1.6"/><line x1="1182.8" y1="1470.85" x2="1182.8" y2="1476.35" stroke="#000" stroke-width="1.6"/><line x1="1316.35" y1="1470.85" x2="1316.35" y2="1476.35" stroke="#000" stroke-width="1.6"/><line x1="1449.9" y1="1470.85" x2="1449.9" y2="1476.35" stroke="#000" stroke-width="1.6"/>
<text x="1092.6" y="1244.52" font-size="19" text-anchor="end" transform="matrix(1 0 0 1.04 0 -49.78)">1.6</text><text x="1092.6" y="1308.24" font-size="19" text-anchor="end" transform="matrix(1 0 0 1.04 0 -52.33)">1.2</text><text x="1092.6" y="1371.96" font-size="19" text-anchor="end" transform="matrix(1 0 0 1.04 0 -54.88)">0.8</text><text x="1092.6" y="1435.68" font-size="19" text-anchor="end" transform="matrix(1 0 0 1.04 0 -57.43)">0.4</text><text x="1182.8" y="1495.15" font-size="19" text-anchor="middle" transform="matrix(1 0 0 1.04 0 -59.81)">T<tspan font-size="13" dy="3.4">0</tspan></text><text x="1316.35" y="1495.15" font-size="19" text-anchor="middle" transform="matrix(1 0 0 1.04 0 -59.81)">T<tspan font-size="13" dy="3.4">1</tspan></text><text x="1449.9" y="1495.15" font-size="19" text-anchor="middle" transform="matrix(1 0 0 1.04 0 -59.81)">T<tspan font-size="13" dy="3.4">2</tspan></text><text x="1316.37" y="1523.25" font-size="21.8" text-anchor="middle">Session</text><text transform="translate(1052.8 1348.25) rotate(-90)" font-size="21.8" text-anchor="middle">Gait speed, m/s</text>
</g></svg>
</body></html>
